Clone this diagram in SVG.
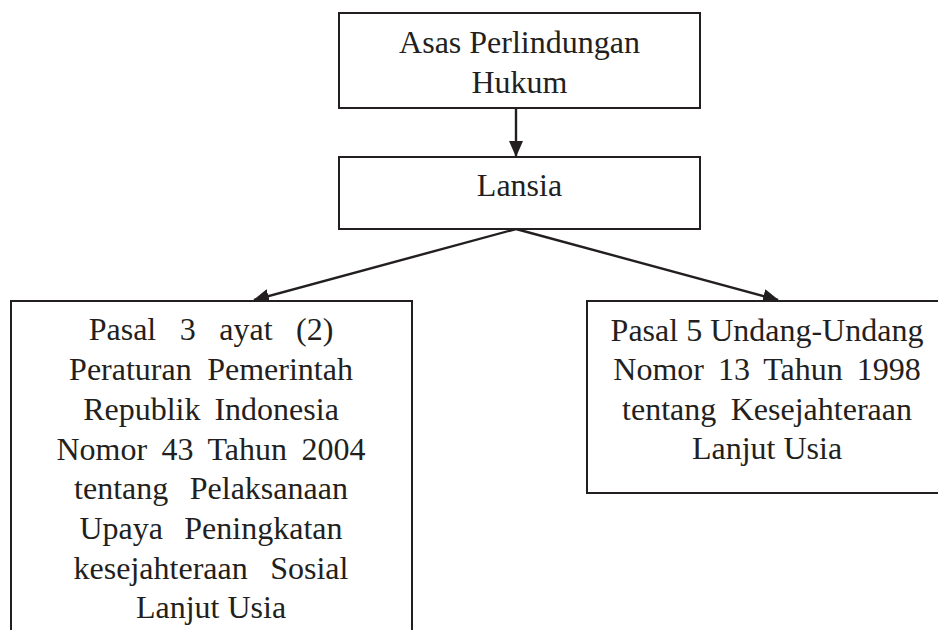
<svg xmlns="http://www.w3.org/2000/svg" width="938" height="630" viewBox="0 0 938 630">
<style>
  .box { fill: #ffffff; stroke: #231f20; stroke-width: 2; }
  .t { font-family: "Liberation Serif", "Times New Roman", serif; font-size: 32px; fill: #231f20; text-anchor: middle; }
  .conn { stroke: #231f20; stroke-width: 2.4; fill: none; }
</style>
<defs>
  <marker id="arr" viewBox="0 0 16 14" refX="15" refY="7" markerWidth="16" markerHeight="14" markerUnits="userSpaceOnUse" orient="auto">
    <path d="M0,0 L16,7 L0,14 Z" fill="#231f20"/>
  </marker>
</defs>
<rect width="938" height="630" fill="#ffffff"/>
<g id="connectors">
  <line class="conn" x1="516" y1="108" x2="516" y2="156" marker-end="url(#arr)"/>
  <line class="conn" x1="516" y1="229" x2="254" y2="300" marker-end="url(#arr)"/>
  <line class="conn" x1="516" y1="229" x2="778" y2="300" marker-end="url(#arr)"/>
</g>
<g id="node-asas">
  <rect class="box" x="339" y="13" width="361" height="95"/>
  <text class="t" x="519.5" y="53">Asas Perlindungan</text>
  <text class="t" x="519.5" y="93">Hukum</text>
</g>
<g id="node-lansia">
  <rect class="box" x="339" y="157" width="361" height="72"/>
  <text class="t" x="519.5" y="196">Lansia</text>
</g>
<g id="node-pp">
  <rect class="box" x="11" y="301" width="401" height="340"/>
  <text class="t" x="211" y="340" word-spacing="15.5">Pasal 3 ayat (2)</text>
  <text class="t" x="211" y="380" word-spacing="7.5">Peraturan Pemerintah</text>
  <text class="t" x="211" y="420" word-spacing="6">Republik Indonesia</text>
  <text class="t" x="211" y="460" word-spacing="6.5">Nomor 43 Tahun 2004</text>
  <text class="t" x="211" y="499" word-spacing="13.5">tentang Pelaksanaan</text>
  <text class="t" x="211" y="539" word-spacing="13.3">Upaya Peningkatan</text>
  <text class="t" x="211" y="579" word-spacing="14.5">kesejahteraan Sosial</text>
  <text class="t" x="211" y="618">Lanjut Usia</text>
</g>
<g id="node-uu">
  <rect class="box" x="587" y="301" width="362" height="192"/>
  <text class="t" x="767" y="341">Pasal 5 Undang-Undang</text>
  <text class="t" x="767" y="380" word-spacing="5.9">Nomor 13 Tahun 1998</text>
  <text class="t" x="767" y="420" word-spacing="6.5">tentang Kesejahteraan</text>
  <text class="t" x="767" y="459">Lanjut Usia</text>
</g>
</svg>
